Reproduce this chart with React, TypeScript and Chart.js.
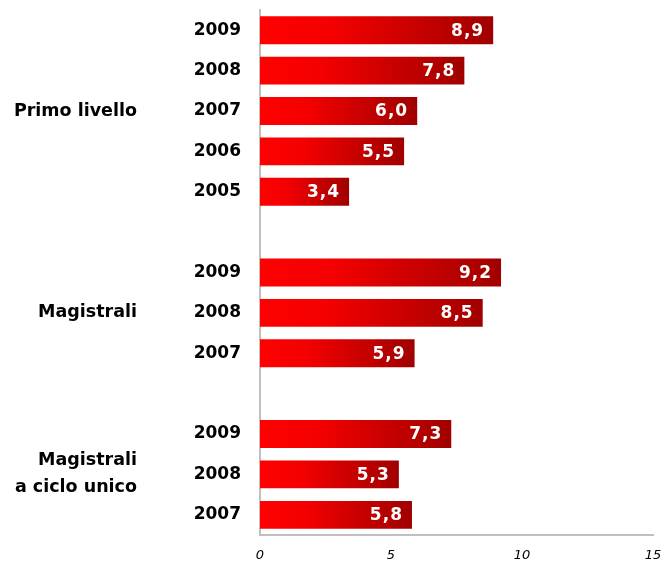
import React, { useEffect, useRef } from "react";
import { Chart, registerables } from "chart.js";

Chart.register(...registerables);

const yearLabels = ["2009", "2008", "2007", "2006", "2005", "", "2009", "2008", "2007", "", "2009", "2008", "2007"];
const values: (number | null)[] = [8.9, 7.8, 6.0, 5.5, 3.4, null, 9.2, 8.5, 5.9, null, 7.3, 5.3, 5.8];
const groupNames: string[][] = [["Primo livello"], ["Magistrali"], ["Magistrali", "a ciclo unico"]];
const groupCenterIndex = [2, 7, 11];
const xTicks = [0, 5, 10, 15];

const FONT = "'DejaVu Sans', sans-serif";

const groupLabelPlugin = {
  id: "groupLabels",
  afterDraw(chart: any) {
    const ctx = chart.ctx;
    const y = chart.scales.y;
    ctx.save();
    ctx.font = `bold 17.5px ${FONT}`;
    ctx.fillStyle = "#000";
    ctx.textAlign = "right";
    ctx.textBaseline = "middle";
    groupNames.forEach((lines, gi) => {
      const cy = y.getPixelForValue(groupCenterIndex[gi]);
      const lh = 27;
      const start = cy - ((lines.length - 1) * lh) / 2;
      lines.forEach((ln, li) => ctx.fillText(ln, 137, start + li * lh));
    });
    ctx.restore();
  },
};

const valueLabelPlugin = {
  id: "valueLabels",
  afterDatasetsDraw(chart: any) {
    const ctx = chart.ctx;
    const meta = chart.getDatasetMeta(0);
    ctx.save();
    ctx.font = `bold 17px ${FONT}`;
    ctx.fillStyle = "#fff";
    ctx.textAlign = "right";
    ctx.textBaseline = "middle";
    try { (ctx as any).letterSpacing = "1px"; } catch (e) {}
    meta.data.forEach((bar: any, i: number) => {
      const v = values[i];
      if (v == null) return;
      ctx.fillText(v.toFixed(1).replace(".", ","), bar.x - 9, bar.y + 1);
    });
    ctx.restore();
  },
};

export default function App() {
  const ref = useRef<HTMLCanvasElement | null>(null);
  useEffect(() => {
    if (!ref.current) return;
    const chart = new Chart(ref.current, {
      type: "bar",
      data: {
        labels: yearLabels,
        datasets: [
          {
            data: values as any,
            backgroundColor: (c: any) => {
              const ch = c.chart;
              const xs = ch.scales?.x;
              const v = values[c.dataIndex];
              if (!xs || v == null) return "#e00000";
              const x0 = xs.getPixelForValue(0);
              const x1 = xs.getPixelForValue(v);
              if (!isFinite(x0) || !isFinite(x1) || x1 <= x0) return "#e00000";
              const g = ch.ctx.createLinearGradient(x0, 0, x1, 0);
              g.addColorStop(0, "#ff0000");
              g.addColorStop(0.3, "#f40000");
              g.addColorStop(1, "#a00000");
              return g;
            },
            borderWidth: 0,
            categoryPercentage: 1,
            barPercentage: 0.69,
          },
        ],
      },
      options: {
        indexAxis: "y",
        animation: false,
        responsive: false,
        maintainAspectRatio: false,
        layout: { padding: { top: 10, right: 10, left: 0, bottom: 0 } },
        plugins: { legend: { display: false }, tooltip: { enabled: false } },
        scales: {
          x: {
            min: 0,
            max: 15,
            afterBuildTicks: (s: any) => {
              s.ticks = xTicks.map((v) => ({ value: v }));
            },
            grid: { display: false, drawTicks: false },
            border: { display: true, color: "#c0c0c0", width: 2 },
            ticks: {
              font: { family: FONT, size: 13, style: "italic" },
              color: "#000",
              padding: 13,
            },
            afterFit: (s: any) => {
              s.height = 26;
              s.paddingLeft = 0;
              s.paddingRight = 0;
            },
          },
          y: {
            grid: { display: false, drawTicks: false },
            border: { display: true, color: "#c0c0c0", width: 2 },
            ticks: {
              font: { family: FONT, size: 17, weight: "bold" },
              color: "#000",
              padding: 19,
              autoSkip: false,
            },
            afterFit: (s: any) => {
              s.width = 260;
              s.paddingTop = 0;
              s.paddingBottom = 0;
            },
          },
        },
      },
      plugins: [groupLabelPlugin, valueLabelPlugin],
    } as any);
    return () => chart.destroy();
  }, []);
  return (
    <div style={{ position: "absolute", left: 0, top: 0, width: 663, height: 561, background: "#fff" }}>
      <canvas ref={ref} width={663} height={561} style={{ width: 663, height: 561 }} />
    </div>
  );
}
